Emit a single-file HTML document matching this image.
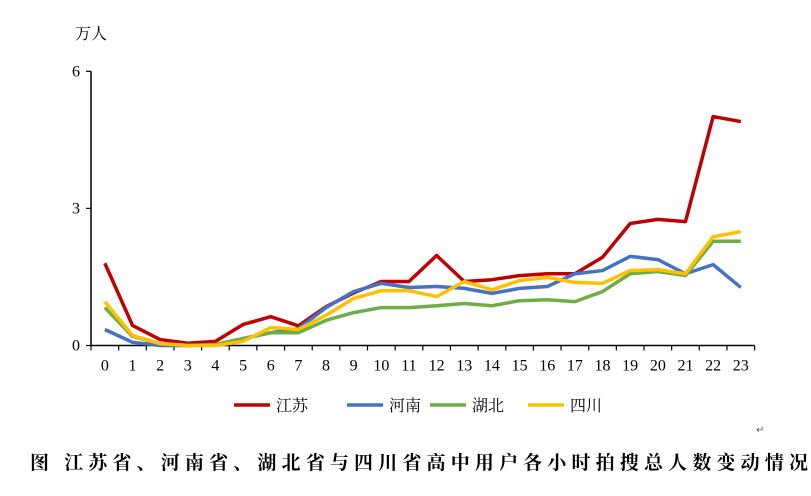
<!DOCTYPE html>
<html><head><meta charset="utf-8"><style>
body{margin:0;background:#fff;width:811px;height:491px;overflow:hidden}
svg text{font-family:"Liberation Serif","Noto Serif CJK SC",serif}
</style></head><body>
<svg width="811" height="491">
<g id="axes"></g><g id="plot"></g>
<text x="75" y="39" font-size="16">万人</text>
<g font-size="16">
<line x1="234" y1="405" x2="270" y2="405" stroke="#C00000" stroke-width="3.5"/><text x="276" y="411">江苏</text>
<line x1="347" y1="405" x2="383" y2="405" stroke="#4472C4" stroke-width="3.5"/><text x="389" y="411">河南</text>
<line x1="430" y1="405" x2="466" y2="405" stroke="#70AD47" stroke-width="3.5"/><text x="472" y="411">湖北</text>
<line x1="528" y1="405" x2="564" y2="405" stroke="#FFC000" stroke-width="3.5"/><text x="570" y="411">四川</text>
</g>
<text x="756" y="433" font-size="10" fill="#555">↵</text>
<text x="30" y="469" font-size="19" font-weight="bold" textLength="778">图  江苏省、河南省、湖北省与四川省高中用户各小时拍搜总人数变动情况</text>
</svg>
<script>
const hours=[0,1,2,3,4,5,6,7,8,9,10,11,12,13,14,15,16,17,18,19,20,21,22,23];
const yTicks=[0,3,6];
const jiangsu=[1.8,0.44,0.13,0.05,0.09,0.46,0.63,0.43,0.85,1.15,1.4,1.4,1.97,1.4,1.44,1.53,1.57,1.57,1.93,2.67,2.76,2.71,5.01,4.9];
const henan=[0.35,0.07,0.0,0.0,0.02,0.15,0.28,0.37,0.83,1.18,1.36,1.27,1.29,1.25,1.14,1.25,1.29,1.57,1.64,1.95,1.88,1.57,1.77,1.27];
const hubei=[0.83,0.2,0.04,0.0,0.02,0.15,0.28,0.28,0.55,0.72,0.83,0.83,0.87,0.92,0.87,0.98,1.0,0.96,1.18,1.57,1.62,1.53,2.28,2.28];
const sichuan=[0.96,0.22,0.04,0.0,0.0,0.09,0.39,0.35,0.66,1.03,1.2,1.2,1.07,1.4,1.22,1.42,1.49,1.38,1.36,1.64,1.66,1.57,2.38,2.49];
const NS="http://www.w3.org/2000/svg";
const x0=91,cw=27.65,yb=345.5,ppu=45.7;
const xPos=i=>x0+cw*(i+0.5);
const yPos=v=>yb-v*ppu;
const axes=document.getElementById('axes'),plot=document.getElementById('plot');
function mk(tag,attrs,parent){const e=document.createElementNS(NS,tag);for(const k in attrs)e.setAttribute(k,attrs[k]);parent.appendChild(e);return e;}
let a=mk('line',{x1:x0,y1:yPos(6),x2:x0,y2:yb,stroke:'#000','stroke-width':1.5},axes);


a=mk('line',{x1:x0,y1:yb,x2:x0+cw*hours.length,y2:yb,stroke:'#000','stroke-width':1.5},axes);


yTicks.forEach(v=>{
  mk('line',{x1:x0-5,y1:yPos(v),x2:x0,y2:yPos(v),stroke:'#000','stroke-width':1.2},axes);
  const t=mk('text',{x:x0-15,y:yPos(v)+5,'font-size':16,'text-anchor':'middle'},axes);
  t.textContent=v;
  
  
});
for(let i=0;i<=hours.length;i++)mk('line',{x1:x0+cw*i,y1:yb,x2:x0+cw*i,y2:yb+5,stroke:'#000','stroke-width':1.2},axes);
hours.forEach((h,i)=>{
  const t=mk('text',{x:xPos(i),y:yb+25,'font-size':16,'text-anchor':'middle'},axes);
  t.textContent=h;
  
  
});
[[jiangsu,'#C00000','line-jiangsu'],[henan,'#4472C4','line-henan'],[hubei,'#70AD47','line-hubei'],[sichuan,'#FFC000','line-sichuan']].forEach(([d,c,n])=>{
  const p=mk('polyline',{points:d.map((v,i)=>xPos(i)+','+yPos(v)).join(' '),fill:'none',stroke:c,'stroke-width':3.5,'stroke-linejoin':'round'},plot);
  
  
});
</script>
</body></html>
